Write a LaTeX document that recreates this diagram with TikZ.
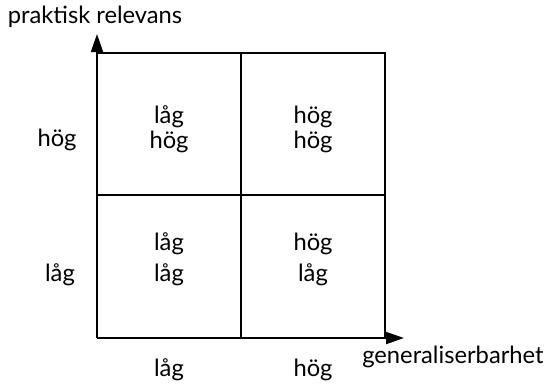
\documentclass[tikz,border=0pt]{standalone}
\usepackage{fontspec}
\setmainfont{Lato}
\usetikzlibrary{arrows.meta}

\begin{document}
\begin{tikzpicture}[x=0.75pt,y=0.75pt,yscale=-1,xscale=1,
  every node/.style={font=\fontsize{17.8}{20}\selectfont, inner sep=0.75pt},
  gridline/.style={line width=1.2pt},
  axisline/.style={line width=1.4pt, -{Triangle[length=13.5pt,width=9pt]}}]
\useasboundingbox (0,0) rectangle (549,387);

% corners of the square
\coordinate (O) at (97,338);
\coordinate (TL) at (97,53);
\coordinate (TR) at (385,53);
\coordinate (BR) at (385,338);
\coordinate (TM) at (241,53);
\coordinate (BM) at (241,338);
\coordinate (LM) at (97,195);
\coordinate (RM) at (385,195);
\coordinate (ytip) at (97,34);
\coordinate (xtip) at (404,338);

%Grid lines
\draw [gridline] (TL) -- (TR) -- (BR) ;
\draw [gridline] (TM) -- (BM) ;
\draw [gridline] (LM) -- (RM) ;

%Axes
\draw [axisline] (O) -- (ytip) ;
\draw [axisline] (O) -- (xtip) ;

% Text Node
\node (ylabel) at (95,17) {praktisk relevans};
% Text Node
\node [anchor=west] (xlabel) at (361,357) {generaliserbarhet};
% Text Node
\node (yhigh) at (57,140) {hög};
% Text Node
\node (ylow) at (60,275) {låg};
% Text Node
\node (xlow) at (169,370) {låg};
% Text Node
\node (xhigh) at (313,370) {hög};

% Cell texts
\node (c11a) at (169,117) {låg};
\node (c11b) at (169,142) {hög};
\node (c12a) at (313,117) {hög};
\node (c12b) at (313,142) {hög};
\node (c21a) at (169,244) {låg};
\node (c21b) at (169,275) {låg};
\node (c22a) at (313,244) {hög};
\node (c22b) at (313,275) {låg};

\end{tikzpicture}
\end{document}
